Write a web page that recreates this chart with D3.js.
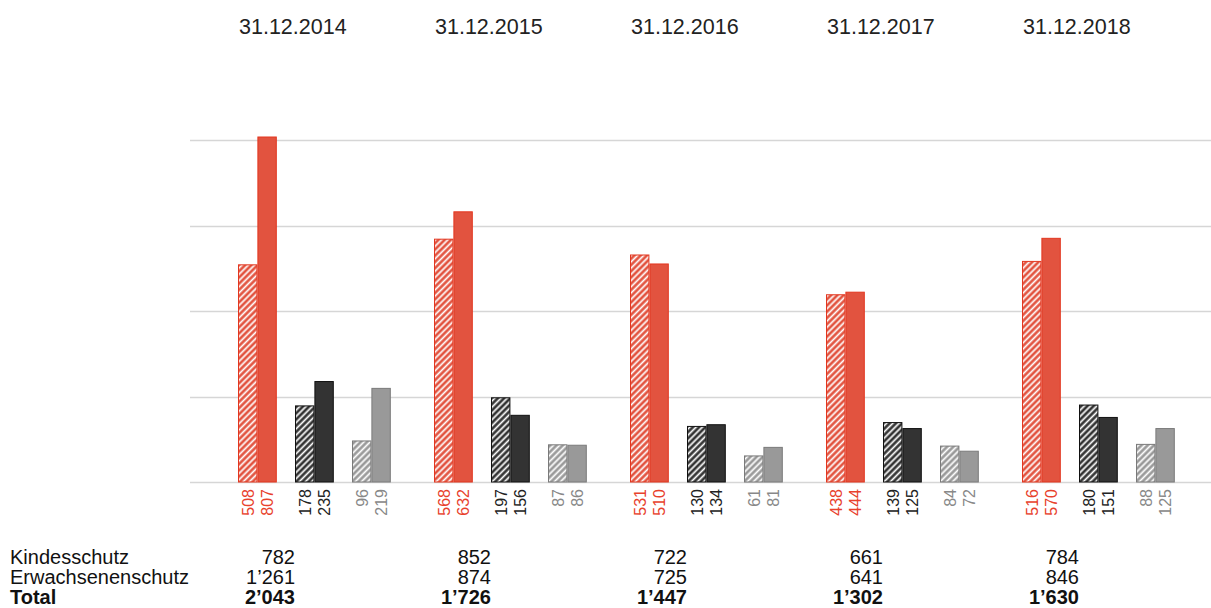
<!DOCTYPE html>
<html>
<head>
<meta charset="utf-8">
<script src="https://cdn.jsdelivr.net/npm/d3@7"></script>
<style>
  body { margin: 0; background: #fff; }
  svg { display: block; font-family: "Liberation Sans", Arial, sans-serif; }
</style>
</head>
<body>
<svg id="chart" width="1211" height="608"></svg>
<script>
// data
const years = ['31.12.2014', '31.12.2015', '31.12.2016', '31.12.2017', '31.12.2018'];
const rotKindes = [508, 568, 531, 438, 516];
const rotErw = [807, 632, 510, 444, 570];
const schwarzKindes = [178, 197, 130, 139, 180];
const schwarzErw = [235, 156, 134, 125, 151];
const grauKindes = [96, 87, 61, 84, 88];
const grauErw = [219, 86, 81, 72, 125];
const kindesschutz = ['782', '852', '722', '661', '784'];
const erwachsenenschutz = ['1\u2019261', '874', '725', '641', '846'];
const total = ['2\u2019043', '1\u2019726', '1\u2019447', '1\u2019302', '1\u2019630'];
const gridTicks = [0, 200, 400, 600, 800];

const colors = {
  rot: {fill: '#e2533f', stroke: '#e3361f', text: '#e8412c'},
  schwarz: {fill: '#333333', stroke: '#111111', text: '#222222'},
  grau: {fill: '#999999', stroke: '#7a7a7a', text: '#888888'}
};

const svg = d3.select('#chart');

// hatch patterns for Kindesschutz bars
const hp = 4.4;
const defs = svg.append('defs');
Object.keys(colors).forEach(k => {
  const p = defs.append('pattern')
    .attr('id', 'hatch-' + k)
    .attr('patternUnits', 'userSpaceOnUse')
    .attr('width', hp)
    .attr('height', hp)
    .attr('patternTransform', 'rotate(45)');
  p.append('rect').attr('width', hp).attr('height', hp).attr('fill', colors[k].fill);
  p.append('line')
    .attr('x1', hp / 2).attr('y1', 0).attr('x2', hp / 2).attr('y2', hp)
    .attr('stroke', '#fff').attr('stroke-width', 1.7);
});

const series = [];
years.forEach((yr, i) => {
  series.push({year: yr, cat: 'rot', k: rotKindes[i], e: rotErw[i]});
  series.push({year: yr, cat: 'schwarz', k: schwarzKindes[i], e: schwarzErw[i]});
  series.push({year: yr, cat: 'grau', k: grauKindes[i], e: grauErw[i]});
});

const x = d3.scaleBand().domain(years).range([238, 238 + 196 * years.length]);
const xCat = d3.scaleBand().domain(['rot', 'schwarz', 'grau']).range([0, 171]);
const barW = 19.4;

const y = d3.scaleLinear().domain([0, 800]).range([482, 140]);

// gridlines
svg.append('g')
  .selectAll('line')
  .data(gridTicks)
  .join('line')
  .attr('x1', 190).attr('x2', 1211)
  .attr('y1', d => Math.round(y(d)) + 0.5)
  .attr('y2', d => Math.round(y(d)) + 0.5)
  .attr('stroke', '#d6d6d6')
  .attr('stroke-width', 1.3);

// titles
svg.append('g')
  .selectAll('text')
  .data(years)
  .join('text')
  .attr('x', d => x(d) + 1)
  .attr('y', 34)
  .attr('font-size', 21.5)
  .attr('fill', '#222')
  .text(d => d);

const bars = svg.append('g');

// Kindesschutz (hatched)
bars.selectAll('.k')
  .data(series)
  .join('rect')
  .attr('class', 'k')
  .attr('x', d => x(d.year) + xCat(d.cat) + 0.5)
  .attr('y', d => y(d.k))
  .attr('width', barW - 1)
  .attr('height', d => y(0) - y(d.k))
  .attr('fill', d => 'url(#hatch-' + d.cat + ')')
  .attr('stroke', d => colors[d.cat].stroke)
  .attr('stroke-width', 1);

// Erwachsenenschutz (solid)
bars.selectAll('.e')
  .data(series)
  .join('rect')
  .attr('class', 'e')
  .attr('x', d => x(d.year) + xCat(d.cat) + barW + 0.5)
  .attr('y', d => y(d.e))
  .attr('width', barW - 1)
  .attr('height', d => y(0) - y(d.e))
  .attr('fill', d => colors[d.cat].fill)
  .attr('stroke', d => colors[d.cat].stroke)
  .attr('stroke-width', 1);

// value labels under bars (rotated)
const labels = svg.append('g').attr('font-size', 16);
['k', 'e'].forEach((key, j) => {
  labels.selectAll('.lbl-' + key)
    .data(series)
    .join('text')
    .attr('class', 'lbl-' + key)
    .attr('transform', d => {
      const cx = x(d.year) + xCat(d.cat) + j * barW + barW / 2 + 6;
      return 'translate(' + cx + ',489) rotate(-90)';
    })
    .attr('text-anchor', 'end')
    .attr('fill', d => colors[d.cat].text)
    .text(d => d[key]);
});

// table below
const rows = [
  {label: 'Kindesschutz', values: kindesschutz, bold: false},
  {label: 'Erwachsenenschutz', values: erwachsenenschutz, bold: false},
  {label: 'Total', values: total, bold: true}
];
const table = svg.append('g').attr('font-size', 20).attr('fill', '#111');
rows.forEach((r, i) => {
  const by = 564 + i * 20;
  table.append('text')
    .attr('x', 10).attr('y', by)
    .attr('font-weight', r.bold ? 'bold' : 'normal')
    .text(r.label);
  table.selectAll('.v' + i)
    .data(r.values)
    .join('text')
    .attr('class', 'v' + i)
    .attr('x', (d, j) => x(years[j]) + 57)
    .attr('y', by)
    .attr('text-anchor', 'end')
    .attr('font-weight', r.bold ? 'bold' : 'normal')
    .text(d => d);
});
</script>
</body>
</html>
